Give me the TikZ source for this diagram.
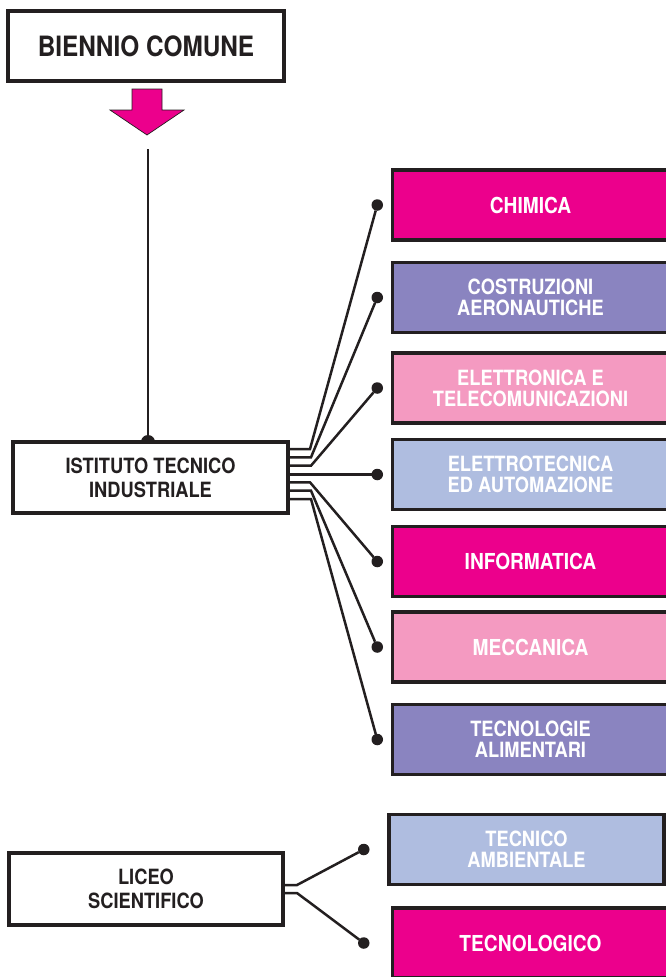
\documentclass[tikz,border=0pt]{standalone}
\usepackage{fontspec}
\setmainfont[FakeStretch=0.87]{TeX Gyre Heros}
\usetikzlibrary{positioning,backgrounds}
\definecolor{ink}{HTML}{231F20}
\definecolor{fucsia}{HTML}{EC008C}
\definecolor{lilla}{HTML}{8A84C0}
\definecolor{rosa}{HTML}{F49AC1}
\definecolor{celeste}{HTML}{AFBDE0}
\newcommand{\bigtxt}{\bfseries\fontsize{28}{30}\selectfont}
\newcommand{\midtxt}{\bfseries\fontsize{21}{24}\selectfont}
\newcommand{\onetxt}{\bfseries\fontsize{22}{22}\selectfont}
\newcommand{\twotxt}{\bfseries\fontsize{21}{21}\selectfont}

\begin{document}
\begin{tikzpicture}[x=1pt,y=-1pt,every node/.style={align=center,inner sep=0pt,outer sep=0pt},
box/.style={draw=ink,line width=3.2pt,minimum height=70pt},
leftbox/.style={box,fill=white,text=ink,minimum width=275pt,font=\midtxt},
rightbox/.style={box,fill=#1,text=white,minimum width=276pt,font=\twotxt},
dot/.style={circle,fill=ink,minimum size=11.5pt},
link/.style={draw=ink,line width=2.5pt}
]
\useasboundingbox (0,0) rectangle (665,977);

\node[leftbox,minimum width=276pt,font=\bigtxt] (biennio) at (146,46) {BIENNIO COMUNE};
\fill[fucsia,draw=ink,line width=0.7pt] (132,89) -- (162,89) -- (162,110) -- (184,110) -- (147,135) -- (110,110) -- (132,110) -- cycle; % <- big arrow
\node[leftbox,minimum height=71pt] (iti) at (150.5,477.5) {ISTITUTO TECNICO\\INDUSTRIALE};
\node[leftbox,minimum width=274pt,minimum height=72pt] (liceo) at (146,889) {LICEO\\SCIENTIFICO};

% indirizzi tecnici
\node[rightbox=fucsia,font=\onetxt] (chim) at (530.5,205) {CHIMICA};
\node[rightbox=lilla] (aero) at (530.5,297.5) {COSTRUZIONI\\AERONAUTICHE};
\node[rightbox=rosa] (elet) at (530.5,388) {ELETTRONICA E\\TELECOMUNICAZIONI};
\node[rightbox=celeste] (autom) at (530.5,474.5) {ELETTROTECNICA\\ED AUTOMAZIONE};
\node[rightbox=fucsia,font=\onetxt] (info) at (530.5,561.5) {INFORMATICA};
\node[rightbox=rosa,font=\onetxt] (mecc) at (530.5,647) {MECCANICA};
\node[rightbox=lilla] (alim) at (530.5,739.5) {TECNOLOGIE\\ALIMENTARI};
% opzioni liceo
\node[rightbox=celeste,minimum width=275pt] (amb) at (526.5,849.5) {TECNICO\\AMBIENTALE};
\node[rightbox=fucsia,font=\onetxt] (tecn) at (530.5,943) {TECNOLOGICO};

\node[dot,left=9.5pt of chim] (dchim) {};
\node[dot,left=9.5pt of aero] (daero) {};
\node[dot,left=9.5pt of elet] (delet) {};
\node[dot,left=9.5pt of autom] (dautom) {};
\node[dot,left=9.5pt of info] (dinfo) {};
\node[dot,left=9.5pt of mecc] (dmecc) {};
\node[dot,left=9.5pt of alim] (dalim) {};
\node[dot,left=19.5pt of amb] (damb) {};
\node[dot,left=23pt of tecn] (dtecn) {};

% stem from the arrow
\coordinate (stem) at (148,149);
\begin{scope}[on background layer]
\node[dot,minimum size=14pt] (knob) at (stem |- iti.north) {};
\end{scope}
\draw[link,line width=2.6pt] (stem) -- (knob);

% fan out of iti
\coordinate (k1) at (310,449);
\coordinate (k2) at (311,457.3);
\coordinate (k3) at (311,465.7);
\coordinate (k4) at (310,474.5);
\coordinate (k5) at (310,482.3);
\coordinate (k6) at (311,490.7);
\coordinate (k7) at (311,499);
\draw[link] (iti.east |- k1) -- (k1) -- (dchim);
\draw[link] (iti.east |- k2) -- (k2) -- (daero);
\draw[link] (iti.east |- k3) -- (k3) -- (delet);
\draw[link] (iti.east |- k4) -- (dautom);
\draw[link] (iti.east |- k5) -- (k5) -- (dinfo);
\draw[link] (iti.east |- k6) -- (k6) -- (dmecc);
\draw[link] (iti.east |- k7) -- (k7) -- (dalim); % <- end fan

% liceo
\coordinate (m1) at (297,885);
\coordinate (m2) at (297,893);
\draw[link] (liceo.east |- m1) -- (m1) -- (damb);
\draw[link] (liceo.east |- m2) -- (m2) -- (dtecn);
\end{tikzpicture}
\end{document}
